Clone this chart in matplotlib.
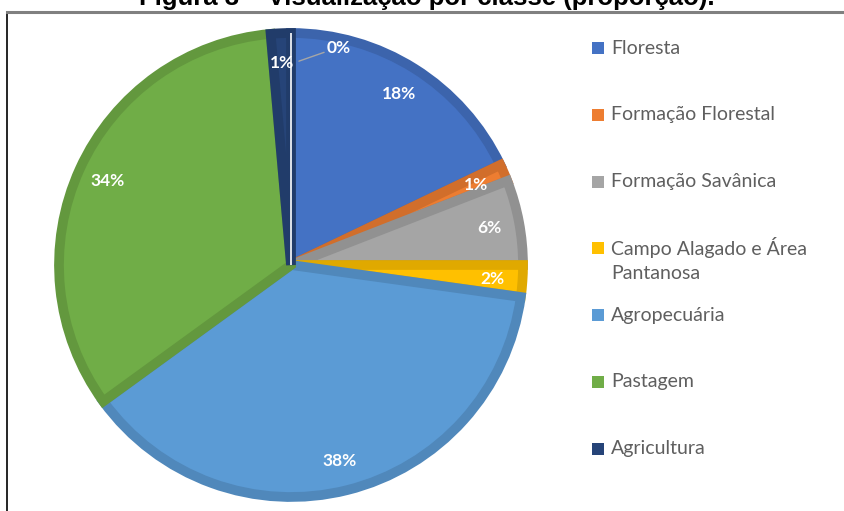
import matplotlib.pyplot as plt
import matplotlib.colors as mcolors
import numpy as np

# classes (clockwise from 12 o'clock)
classes = ["Floresta", "Formação Florestal", "Formação Savânica",
           "Campo Alagado e Área\nPantanosa", "Agropecuária", "Pastagem",
           "Agricultura", "Outros"]
shares = [17.9, 1.2, 5.9, 2.2, 37.8, 33.6, 1.4, 0.0]
colors = ["#4472C4", "#ED7D31", "#A5A5A5", "#FFC000",
          "#5B9BD5", "#70AD47", "#264478", "#9E480E"]
legend_n = 7  # the 8th legend entry is cut off in the source image

W, H = 845, 511
fig = plt.figure(figsize=(W / 100, H / 100), dpi=100)

# thin frame around the chart area (top + left only visible)
frame = fig.add_axes([7 / W, 0, 1 - 7 / W, (H - 12) / H])
frame.set_xticks([])
frame.set_yticks([])
frame.spines["right"].set_visible(False)
frame.spines["bottom"].set_visible(False)
frame.spines["top"].set_color("#808080")
frame.spines["top"].set_linewidth(2.2)
frame.spines["left"].set_color("black")
frame.spines["left"].set_linewidth(1.2)
frame.patch.set_alpha(0)

ax = fig.add_axes([0, 0, 1, 1])
cx, cy, r = 291, H - 265, 232

def pct(p):
    return "" if p < 0.5 else "%.0f%%" % p

wedges, _, autotexts = ax.pie(
    shares, colors=colors, startangle=90, counterclock=False,
    center=(cx, cy), radius=r, autopct=pct, pctdistance=0.87,
    textprops=dict(color="white", fontsize=12.5, fontweight="bold",
                   family="Lato"),
    wedgeprops=dict(linewidth=0))

# darker inner band on each slice (Excel style)
for w, c, s in zip(wedges, colors, shares):
    if s == 0:
        # empty slice: only its thin white border shows
        w.set_edgecolor("white")
        w.set_linewidth(1.2)
        continue
    dark = np.array(mcolors.to_rgb(c)) * 0.88
    w.set_edgecolor(dark)
    w.set_linewidth(7)
    w.set_clip_path(w)

# label for the zero slice with leader line
w0 = wedges[-1]
mid = np.deg2rad(w0.theta1 - 1.5)
ax.annotate("0%", xy=(cx + 0.875 * r * np.cos(mid), cy + 0.875 * r * np.sin(mid)),
            xytext=(22, 10), textcoords="offset points",
            color="white", fontsize=12.5, fontweight="bold", family="Lato",
            ha="left", va="center",
            arrowprops=dict(arrowstyle="-", color="#A6A6A6", lw=1,
                            shrinkA=0, shrinkB=2, relpos=(0, 0.3)))

ax.set_xlim(0, W)
ax.set_ylim(0, H)
ax.set_aspect("equal")
ax.axis("off")

# legend (uniform slots like the original)
for i in range(legend_n):
    y = H - 48 - i * 66.8
    ax.scatter([598], [y], marker="s", s=70, color=colors[i], linewidths=0)
    multi = "\n" in classes[i]
    ax.text(611, y + 11 if multi else y, classes[i], fontsize=14,
            color="#5f5f5f", family="Lato",
            va="top" if multi else "center", linespacing=1.45)

fig.text(715 / W, 1 - 5 / H, "Figura 3 – Visualização por classe (proporção).",
         ha="right", va="baseline", fontsize=18.5, fontweight="bold",
         family="Liberation Sans")

fig.savefig("out.png", dpi=100)
